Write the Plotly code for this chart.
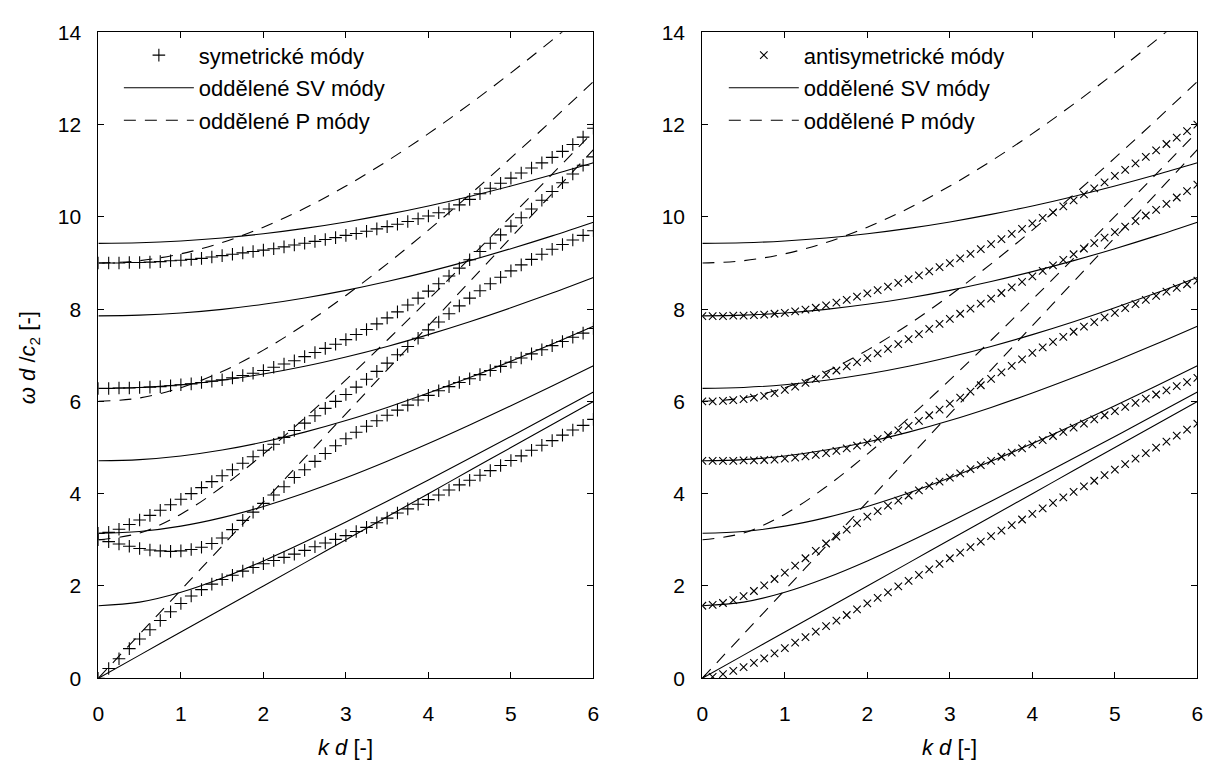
import plotly.graph_objects as go

# ---------------- data ----------------
KD = [0.0, 0.125, 0.25, 0.375, 0.5, 0.625, 0.75, 0.875, 1.0, 1.125, 1.25, 1.375, 1.5,
      1.625, 1.75, 1.875, 2.0, 2.125, 2.25, 2.375, 2.5, 2.625, 2.75, 2.875, 3.0,
      3.125, 3.25, 3.375, 3.5, 3.625, 3.75, 3.875, 4.0, 4.125, 4.25, 4.375, 4.5,
      4.625, 4.75, 4.875, 5.0, 5.125, 5.25, 5.375, 5.5, 5.625, 5.75, 5.875, 6.0]

# symmetric modes (left panel)
S0 = [0.00, 0.21, 0.42, 0.64, 0.85, 1.05, 1.25, 1.44, 1.62, 1.78, 1.92, 2.04, 2.14,
      2.23, 2.32, 2.40, 2.48, 2.55, 2.62, 2.69, 2.77, 2.85, 2.93, 3.01, 3.09,
      3.18, 3.27, 3.37, 3.47, 3.58, 3.67, 3.77, 3.87, 3.97, 4.08, 4.19, 4.29,
      4.40, 4.50, 4.61, 4.72, 4.82, 4.94, 5.05, 5.15, 5.27, 5.38, 5.48, 5.61]
S1 = [3.00, 2.96, 2.91, 2.86, 2.81, 2.78, 2.76, 2.75, 2.76, 2.79, 2.84, 2.92, 3.04,
      3.22, 3.42, 3.60, 3.79, 3.97, 4.15, 4.35, 4.52, 4.70, 4.87, 5.04, 5.19,
      5.33, 5.46, 5.58, 5.70, 5.81, 5.92, 6.03, 6.13, 6.23, 6.32, 6.41, 6.49,
      6.58, 6.67, 6.76, 6.85, 6.94, 7.03, 7.12, 7.21, 7.30, 7.39, 7.48, 7.58]
S2 = [3.14, 3.16, 3.23, 3.33, 3.43, 3.53, 3.64, 3.76, 3.88, 4.00, 4.13, 4.26, 4.39,
      4.52, 4.66, 4.80, 4.94, 5.07, 5.22, 5.37, 5.53, 5.69, 5.85, 6.00, 6.15,
      6.31, 6.48, 6.65, 6.83, 7.01, 7.19, 7.37, 7.55, 7.72, 7.90, 8.07, 8.24,
      8.40, 8.55, 8.69, 8.83, 8.96, 9.08, 9.19, 9.30, 9.40, 9.50, 9.60, 9.70]
S3 = [6.28, 6.28, 6.29, 6.29, 6.30, 6.31, 6.32, 6.34, 6.36, 6.38, 6.41, 6.44, 6.47,
      6.51, 6.56, 6.61, 6.67, 6.74, 6.81, 6.88, 6.97, 7.06, 7.15, 7.24, 7.34,
      7.45, 7.56, 7.68, 7.81, 7.94, 8.09, 8.24, 8.39, 8.55, 8.72, 8.89, 9.07,
      9.25, 9.43, 9.61, 9.80, 9.98, 10.17, 10.36, 10.55, 10.74, 10.93, 11.12, 11.30]
S4 = [9.00, 9.00, 9.00, 9.01, 9.01, 9.02, 9.03, 9.05, 9.06, 9.08, 9.10, 9.13, 9.16,
      9.19, 9.22, 9.25, 9.28, 9.31, 9.35, 9.39, 9.43, 9.47, 9.51, 9.55, 9.60,
      9.64, 9.69, 9.74, 9.79, 9.84, 9.90, 9.96, 10.02, 10.09, 10.17, 10.26, 10.38,
      10.50, 10.62, 10.73, 10.84, 10.95, 11.06, 11.17, 11.29, 11.42, 11.57, 11.73, 11.92]

# antisymmetric modes (right panel)
A0 = [0.00, 0.03, 0.09, 0.16, 0.24, 0.33, 0.43, 0.54, 0.65, 0.77, 0.89, 1.01, 1.13,
      1.25, 1.37, 1.49, 1.62, 1.74, 1.86, 1.99, 2.11, 2.24, 2.36, 2.48, 2.60,
      2.72, 2.84, 2.96, 3.08, 3.20, 3.32, 3.44, 3.56, 3.68, 3.80, 3.92, 4.04,
      4.16, 4.28, 4.40, 4.52, 4.64, 4.76, 4.88, 5.00, 5.13, 5.26, 5.39, 5.52]
A1 = [1.57, 1.59, 1.63, 1.69, 1.78, 1.89, 2.01, 2.15, 2.29, 2.44, 2.60, 2.76, 2.92,
      3.07, 3.22, 3.36, 3.50, 3.62, 3.74, 3.85, 3.96, 4.07, 4.17, 4.26, 4.35,
      4.44, 4.53, 4.62, 4.71, 4.80, 4.89, 4.98, 5.07, 5.16, 5.25, 5.34, 5.43,
      5.52, 5.61, 5.70, 5.79, 5.88, 5.97, 6.06, 6.15, 6.24, 6.33, 6.42, 6.51]
A2 = [4.71, 4.71, 4.71, 4.71, 4.72, 4.72, 4.73, 4.74, 4.76, 4.78, 4.81, 4.84, 4.88,
      4.93, 4.98, 5.04, 5.11, 5.19, 5.27, 5.37, 5.47, 5.58, 5.70, 5.82, 5.95,
      6.08, 6.21, 6.35, 6.49, 6.63, 6.77, 6.91, 7.05, 7.17, 7.29, 7.40, 7.51,
      7.62, 7.72, 7.82, 7.92, 8.02, 8.11, 8.20, 8.29, 8.38, 8.46, 8.54, 8.62]
A3 = [6.00, 6.00, 6.01, 6.03, 6.05, 6.08, 6.12, 6.18, 6.25, 6.32, 6.40, 6.49, 6.58,
      6.67, 6.76, 6.85, 6.94, 7.04, 7.14, 7.24, 7.35, 7.46, 7.57, 7.68, 7.79,
      7.90, 8.01, 8.12, 8.23, 8.35, 8.47, 8.59, 8.71, 8.83, 8.95, 9.07, 9.19,
      9.31, 9.43, 9.55, 9.67, 9.79, 9.91, 10.03, 10.15, 10.28, 10.42, 10.56, 10.70]
A4 = [7.85, 7.85, 7.85, 7.86, 7.86, 7.87, 7.88, 7.90, 7.92, 7.95, 7.99, 8.03, 8.08,
      8.14, 8.20, 8.27, 8.34, 8.41, 8.49, 8.57, 8.65, 8.73, 8.82, 8.91, 9.00,
      9.10, 9.20, 9.30, 9.41, 9.52, 9.63, 9.74, 9.86, 9.98, 10.10, 10.23, 10.36,
      10.49, 10.62, 10.75, 10.89, 11.02, 11.16, 11.30, 11.44, 11.58, 11.72, 11.86, 12.00]

# separated SV and P modes (both panels)
KD_LINE = [0.0, 0.5, 1.0, 1.5, 2.0, 2.5, 3.0, 3.5, 4.0, 4.5, 5.0, 5.5, 6.0]
SV0 = [0.0, 0.5, 1.0, 1.5, 2.0, 2.5, 3.0, 3.5, 4.0, 4.5, 5.0, 5.5, 6.0]
SV1 = [1.571, 1.648, 1.862, 2.172, 2.543, 2.953, 3.386, 3.836, 4.297, 4.766, 5.241, 5.720, 6.202]
SV2 = [3.142, 3.181, 3.297, 3.481, 3.724, 4.015, 4.344, 4.703, 5.086, 5.488, 5.905, 6.334, 6.773]
SV3 = [4.712, 4.739, 4.817, 4.945, 5.119, 5.334, 5.586, 5.870, 6.181, 6.516, 6.871, 7.243, 7.629]
SV4 = [6.283, 6.303, 6.362, 6.460, 6.594, 6.762, 6.963, 7.192, 7.448, 7.728, 8.030, 8.350, 8.688]
SV5 = [7.854, 7.870, 7.917, 7.996, 8.105, 8.242, 8.407, 8.599, 8.814, 9.052, 9.311, 9.588, 9.884]
SV6 = [9.425, 9.438, 9.478, 9.543, 9.635, 9.751, 9.891, 10.054, 10.238, 10.444, 10.669, 10.912, 11.173]
P0 = [0.0, 0.955, 1.910, 2.865, 3.820, 4.775, 5.730, 6.685, 7.640, 8.595, 9.550, 10.504, 11.459]
P1 = [3.000, 3.148, 3.556, 4.148, 4.857, 5.640, 6.467, 7.326, 8.207, 9.103, 10.010, 10.925, 11.845]
P2 = [6.000, 6.075, 6.297, 6.648, 7.112, 7.668, 8.297, 8.982, 9.714, 10.481, 11.278, 12.097, 12.935]
P3 = [9.000, 9.051, 9.200, 9.444, 9.777, 10.187, 10.669, 11.211, 11.805, 12.445, 13.123, 13.833, 14.571]

SYM = [S0, S1, S2, S3, S4]
ANTI = [A0, A1, A2, A3, A4]
SV = [SV0, SV1, SV2, SV3, SV4, SV5, SV6]
P = [P0, P1, P2, P3]

LEG_SYM = "symetrické módy"
LEG_ANTI = "antisymetrické módy"
LEG_SV = "oddělené SV módy"
LEG_P = "oddělené P módy"
XT = "<i>k d</i> [-]"
YT = "<i>ω d</i> /<i>c</i><sub>2</sub> [-]"

# ---------------- figure ----------------
W, H = 1211, 770
FONT = "Liberation Sans, Arial, Helvetica, sans-serif"
fig = go.Figure()


def add_panel(col, modes, symbol, msize, sym_name, legend_id):
    xa = "x" if col == 1 else "x2"
    ya = "y" if col == 1 else "y2"
    for i, m in enumerate(modes):
        fig.add_trace(go.Scatter(
            x=KD, y=m, mode="markers", xaxis=xa, yaxis=ya,
            marker=dict(symbol=symbol, size=msize, color="black",
                        line=dict(color="black", width=1.1)),
            name=sym_name, legend=legend_id, legendgroup=legend_id + "a",
            showlegend=(i == 0)))
    for i, s in enumerate(SV):
        fig.add_trace(go.Scatter(
            x=KD_LINE, y=s, mode="lines", xaxis=xa, yaxis=ya,
            line=dict(color="black", width=1.1, shape="spline"),
            name=LEG_SV, legend=legend_id, legendgroup=legend_id + "b",
            showlegend=(i == 0)))
    for i, p in enumerate(P):
        fig.add_trace(go.Scatter(
            x=KD_LINE, y=p, mode="lines", xaxis=xa, yaxis=ya,
            line=dict(color="black", width=1.1, shape="spline", dash="12px,9px"),
            name=LEG_P, legend=legend_id, legendgroup=legend_id + "c",
            showlegend=(i == 0)))


add_panel(1, SYM, "cross-thin", 9, LEG_SYM, "legend")
add_panel(2, ANTI, "x-thin", 7.5, LEG_ANTI, "legend2")

x0a, x1a = 93.3 / W, 593.3 / W
x0b, x1b = 703.3 / W, 1203.3 / W
yb, yt = (H - 686.7) / H, (H - 21.0) / H

axis_common = dict(showline=True, linecolor="black", linewidth=1.2, mirror="ticks",
                   ticks="inside", ticklen=6, tickcolor="black", tickwidth=1,
                   showgrid=False, zeroline=False,
                   tickfont=dict(family=FONT, size=21, color="black"))

leg_common = dict(xanchor="left", yanchor="top", bgcolor="rgba(0,0,0,0)",
                  font=dict(family=FONT, size=22, color="black"),
                  tracegroupgap=1, itemwidth=70, traceorder="grouped")

fig.update_layout(
    width=W, height=H, margin=dict(l=0, r=0, t=0, b=0),
    paper_bgcolor="white", plot_bgcolor="white",
    font=dict(family=FONT, size=21, color="black"),
    xaxis=dict(domain=[x0a, x1a], range=[0, 6], dtick=1, anchor="y", **axis_common,
               ticklabelstandoff=17),
    yaxis=dict(domain=[yb, yt], range=[0, 14], dtick=2, anchor="x", **axis_common,
               ticklabelstandoff=12),
    xaxis2=dict(domain=[x0b, x1b], range=[0, 6], dtick=1, anchor="y2", **axis_common,
                ticklabelstandoff=17),
    yaxis2=dict(domain=[yb, yt], range=[0, 14], dtick=2, anchor="x2", **axis_common,
                ticklabelstandoff=12),
    legend=dict(x=114 / W, y=1 - 23 / H, **leg_common),
    legend2=dict(x=725 / W, y=1 - 23 / H, **leg_common),
)

for xc in [(x0a + x1a) / 2, (x0b + x1b) / 2]:
    fig.add_annotation(x=xc, y=(H - 758) / H, xref="paper", yref="paper",
                       text=XT, showarrow=False, font=dict(family=FONT, size=22),
                       xanchor="center", yanchor="middle")
fig.add_annotation(x=24 / W, y=(H - 356) / H, xref="paper", yref="paper",
                   text=YT, textangle=-90, showarrow=False,
                   font=dict(family=FONT, size=22), xanchor="center", yanchor="middle")

fig.write_html("out.html")
